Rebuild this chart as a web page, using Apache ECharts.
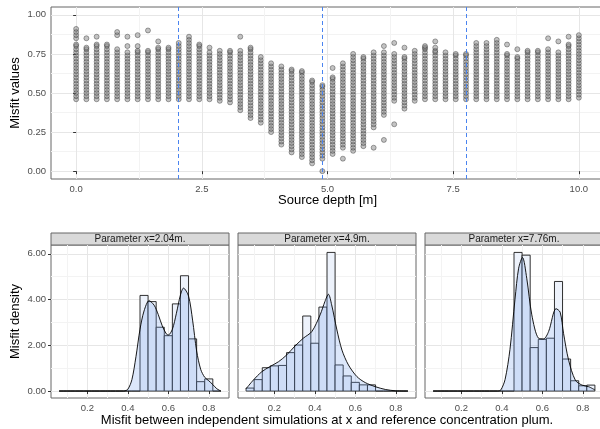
<!DOCTYPE html>
<html>
<head>
<meta charset="utf-8">
<script src="https://cdn.jsdelivr.net/npm/echarts@6/dist/echarts.min.js"></script>
<style>
html, body { margin: 0; padding: 0; background: #fff; }
#charts { width: 600px; height: 429px; }
</style>
</head>
<body>
<div id="charts"></div>
<script>
// source depths of the 50 simulation columns
var depths = [0, 0.204, 0.408, 0.612, 0.816, 1.020, 1.224, 1.429, 1.633, 1.837,
    2.041, 2.245, 2.449, 2.653, 2.857, 3.061, 3.265, 3.469, 3.673, 3.878,
    4.082, 4.286, 4.490, 4.694, 4.898, 5.102, 5.306, 5.510, 5.714, 5.918,
    6.122, 6.327, 6.531, 6.735, 6.939, 7.143, 7.347, 7.551, 7.755, 7.959,
    8.163, 8.367, 8.571, 8.776, 8.980, 9.184, 9.388, 9.592, 9.796, 10];

// misfit values per column, in hundredths
var misfits = [
    [46,48,50,52,54,56,58,60,62,64,66,68,70,72,74,76,78,80,81,85,87,89,91],
    [46,48,50,52,54,56,58,60,62,64,66,68,70,72,74,76,78,79,85],
    [46,48,50,52,54,56,58,60,62,64,66,68,70,72,74,76,78,80,81,86],
    [46,48,50,52,54,56,58,60,62,64,66,68,70,72,74,76,78,80,81],
    [46,48,50,52,54,56,58,60,62,64,66,68,70,72,74,76,78,87,89],
    [46,48,50,52,54,56,58,60,62,64,66,68,70,72,74,76,80,86],
    [46,48,50,52,54,56,58,60,62,64,66,68,70,72,74,76,77,80,87],
    [46,48,50,52,54,56,58,60,62,64,66,68,70,72,74,76,77,90],
    [46,48,50,52,54,56,58,60,62,64,66,68,70,72,74,76,78,79,83],
    [46,48,50,52,54,56,58,60,62,64,66,68,70,72,74,76,78,79],
    [46,48,50,52,54,56,58,60,62,64,66,68,70,72,74,76,78,80,82],
    [46,48,50,52,54,56,58,60,62,64,66,68,70,72,74,76,78,80,82,84,86],
    [46,48,50,52,54,56,58,60,62,64,66,68,70,72,74,76,78,80,81],
    [46,48,50,52,54,56,58,60,62,64,66,68,70,72,74,76,79],
    [45,47,49,51,53,55,57,59,61,63,65,67,69,71,73,75,77],
    [44,46,48,50,52,54,56,58,60,62,64,66,68,70,72,74,76,77],
    [39,41,43,45,47,49,51,53,55,57,59,61,63,65,67,69,71,73,75,77,86],
    [34,36,38,40,42,44,46,48,50,52,54,56,58,60,62,64,66,68,70,72,74,76,78,79],
    [31,33,35,37,39,41,43,45,47,49,51,53,55,57,59,61,63,65,67,69,71,73],
    [25,27,29,31,33,35,37,39,41,43,45,47,49,51,53,55,57,59,61,63,65,67,69],
    [17,19,21,23,25,27,29,31,33,35,37,39,41,43,45,47,49,51,53,55,57,59,61,63,65,67],
    [12,14,16,18,20,22,24,26,28,30,32,34,36,38,40,42,44,46,48,50,52,54,56,58,60,62,64,65],
    [9,11,13,15,17,19,21,23,25,27,29,31,33,35,37,39,41,43,45,47,49,51,53,55,57,59,61,63,64],
    [5,7,9,11,13,15,17,19,21,23,25,27,29,31,33,35,37,39,41,43,45,47,49,51,53,55,57,58],
    [0,8,10,12,14,16,18,20,22,24,26,28,30,32,34,36,38,40,42,44,46,48,50,52,54,55],
    [11,13,15,17,19,21,23,25,27,29,31,33,35,37,39,41,43,45,47,49,51,53,55,57,59,60,66],
    [8,15,17,19,21,23,25,27,29,31,33,35,37,39,41,43,45,47,49,51,53,55,57,59,61,63,65,67,69],
    [13,15,17,19,21,23,25,27,29,31,33,35,37,39,41,43,45,47,49,51,53,55,57,59,61,63,65,67,69,71,73,75],
    [16,18,20,22,24,26,28,30,32,34,36,38,40,42,44,46,48,50,52,54,56,58,60,62,64,66,68,70,72,73],
    [15,28,30,32,34,36,38,40,42,44,46,48,50,52,54,56,58,60,62,64,66,68,70,72,74,76],
    [20,36,38,40,42,44,46,48,50,52,54,56,58,60,62,64,66,68,70,72,74,76,80],
    [30,45,47,49,51,53,55,57,59,61,63,65,67,69,71,73,75,82],
    [40,42,44,46,48,50,52,54,56,58,60,62,64,66,68,70,72,73,79],
    [45,47,49,51,53,55,57,59,61,63,65,67,69,71,73,75,77],
    [46,48,50,52,54,56,58,60,62,64,66,68,70,72,74,76,78,79,80],
    [46,48,50,52,54,56,58,60,62,64,66,68,70,72,74,76,77,79,83],
    [46,48,50,52,54,56,58,60,62,64,66,68,70,72,74,76],
    [46,48,50,52,54,56,58,60,62,64,66,68,70,72,74,75],
    [46,48,50,52,54,56,58,60,62,64,66,68,70,72,74,75],
    [46,48,50,52,54,56,58,60,62,64,66,68,70,72,74,76,78,80,82],
    [46,48,50,52,54,56,58,60,62,64,66,68,70,72,74,76,78,80,82],
    [46,48,50,52,54,56,58,60,62,64,66,68,70,72,74,76,78,80,82,84],
    [46,48,50,52,54,56,58,60,62,64,66,68,70,72,74,75,81],
    [46,48,50,52,54,56,58,60,62,64,66,68,70,72,73,78],
    [46,48,50,52,54,56,58,60,62,64,66,68,70,72,74,76,77],
    [46,48,50,52,54,56,58,60,62,64,66,68,70,72,74,76,77],
    [46,48,50,52,54,56,58,60,62,64,66,68,70,72,74,76,78,85],
    [46,48,50,52,54,56,58,60,62,64,66,68,70,72,74,76,83],
    [46,48,50,52,54,56,58,60,62,64,66,68,70,72,74,76,78,80,81,86],
    [47,49,51,53,55,57,59,61,63,65,67,69,71,73,75,77,79,81,83,85,87]
];

var markDepths = [2.04, 4.9, 7.76];

// tick values
var depthTicks = [0, 2.5, 5, 7.5, 10];
var depthMinor = [1.25, 3.75, 6.25, 8.75];
var misfitTicks = [0, 0.25, 0.5, 0.75, 1];
var misfitMinor = [0.125, 0.375, 0.625, 0.875];
var histXTicks = [0.2, 0.4, 0.6, 0.8];
var histXMinor = [0.1, 0.3, 0.5, 0.7];
var densTicks = [0, 2, 4, 6];
var densMinor = [1, 3, 5];

// histograms (density scale), bins of width 0.04 from 0.06 to 0.86
var binWidth = 0.04;
var binCenters = [0.08, 0.12, 0.16, 0.20, 0.24, 0.28, 0.32, 0.36, 0.40, 0.44,
    0.48, 0.52, 0.56, 0.60, 0.64, 0.68, 0.72, 0.76, 0.80, 0.84];
var hist204 = [0, 0, 0, 0, 0, 0, 0, 0, 0, 0,
    4.18, 3.91, 2.79, 2.42, 3.81, 5.04, 2.28, 0.41, 0.53, 0];
var hist490 = [0.13, 0.50, 1.02, 1.10, 1.12, 1.68, 2.01, 3.28, 2.09, 3.67,
    6.06, 1.14, 0.66, 0.38, 0.27, 0.27, 0, 0, 0, 0];
var hist776 = [0, 0, 0, 0, 0, 0, 0, 0, 0, 0,
    6.06, 5.94, 1.90, 2.26, 2.31, 4.79, 1.40, 0.45, 0.23, 0.26];

// kernel density curves [misfit, density]
var dens204 = [[0.06,0],[0.38,0],[0.40,0.08],[0.42,0.5],[0.44,1.5],[0.46,2.7],[0.48,3.5],
    [0.505,3.95],[0.53,3.75],[0.55,3.35],[0.57,2.85],[0.59,2.5],[0.60,2.45],[0.62,2.7],
    [0.64,3.4],[0.66,4.2],[0.675,4.5],[0.70,4.15],[0.72,3.1],[0.74,1.75],[0.76,0.95],
    [0.78,0.6],[0.80,0.45],[0.82,0.28],[0.84,0.1],[0.86,0]];
var dens490 = [[0.06,0.1],[0.096,0.48],[0.137,0.84],[0.178,1.07],[0.22,1.28],[0.261,1.58],
    [0.302,1.97],[0.343,2.31],[0.385,2.6],[0.426,3.33],[0.45,3.92],[0.467,4.23],[0.483,3.77],
    [0.509,2.67],[0.534,1.79],[0.566,1.14],[0.608,0.63],[0.649,0.37],[0.699,0.19],
    [0.748,0.07],[0.80,0.01],[0.86,0]];
var dens776 = [[0.06,0],[0.38,0],[0.395,0.05],[0.416,0.51],[0.44,1.82],[0.465,4.02],[0.483,5.37],
    [0.502,5.84],[0.523,4.93],[0.548,3.33],[0.581,2.31],[0.606,2.28],[0.631,2.6],[0.668,3.6],
    [0.688,3.45],[0.705,2.52],[0.73,1.35],[0.763,0.48],[0.796,0.26],[0.829,0.19],[0.86,0.05]];

var font = 'Liberation Sans, Arial, sans-serif';
var panelLefts = [51, 238, 425];
var panelW = 178;

function majorAxis(grid, min, max, ticks, digits, showLabels) {
    return {
        type: 'value', gridIndex: grid, min: min, max: max,
        axisLine: { show: false },
        axisTick: { show: showLabels, length: 3, customValues: ticks, lineStyle: { color: '#333' } },
        axisLabel: {
            show: showLabels, customValues: ticks, margin: 5,
            color: '#4d4d4d', fontSize: 9.5, fontFamily: font,
            formatter: function (v) { return v.toFixed(digits); }
        },
        splitLine: { show: true, lineStyle: { color: '#e6e6e6', width: 1 } }
    };
}
function minorAxis(grid, min, max, ticks) {
    return {
        type: 'value', gridIndex: grid, min: min, max: max,
        axisLine: { show: false },
        axisTick: { show: false, customValues: ticks },
        axisLabel: { show: false, customValues: ticks },
        splitLine: { show: true, lineStyle: { color: '#f3f3f3', width: 1 } }
    };
}
function titled(axis, name, gap, rotate) {
    axis.name = name;
    axis.nameLocation = 'middle';
    axis.nameGap = gap;
    axis.nameMoveOverlap = false;
    if (rotate) axis.nameRotate = 90;
    axis.nameTextStyle = { color: '#000', fontSize: 13, fontFamily: font };
    return axis;
}

var xAxes = [titled(majorAxis(0, -0.5, 10.5, depthTicks, 1, true), 'Source depth [m]', 15),
    minorAxis(0, -0.5, 10.5, depthMinor)];
var yAxes = [titled(majorAxis(0, -0.05, 1.05, misfitTicks, 2, true), 'Misfit values', 29, true),
    minorAxis(0, -0.05, 1.05, misfitMinor)];

var grids = [{ left: 51, top: 7, width: 553, height: 172 }];
for (var p = 0; p < 3; p++) {
    grids.push({ left: panelLefts[p], top: 245, width: panelW, height: 153 });
    xAxes.push(majorAxis(p + 1, 0.02, 0.9, histXTicks, 1, true), minorAxis(p + 1, 0.02, 0.9, histXMinor));
    yAxes.push(majorAxis(p + 1, -0.304, 6.384, densTicks, 2, p === 0), minorAxis(p + 1, -0.304, 6.384, densMinor));
}
grids.forEach(function (g) {
    g.show = true; g.backgroundColor = '#fff'; g.borderColor = '#666'; g.borderWidth = 1;
    g.outerBoundsMode = 'none'; g.containLabel = false;
});
titled(xAxes[4], 'Misfit between independent simulations at x and reference concentration plum.', 16);
titled(yAxes[2], 'Misfit density', 29, true);

var points = [];
depths.forEach(function (d, i) {
    misfits[i].forEach(function (v) { points.push([d, v / 100]); });
});

var dashStyle = { color: '#4a84f0', type: [4, 3], width: 1, opacity: 1 };
var series = [{
    type: 'scatter', xAxisIndex: 0, yAxisIndex: 0,
    data: points, symbolSize: 5,
    itemStyle: { color: 'rgba(130,130,130,0.6)', borderColor: 'rgba(30,30,30,0.8)', borderWidth: 0.6 },
    markLine: {
        silent: true, symbol: ['none', 'none'], label: { show: false },
        lineStyle: dashStyle, z: 5,
        data: markDepths.map(function (d) { return { xAxis: d, lineStyle: dashStyle }; })
    }
}];

var hists = [hist204, hist490, hist776];
var dens = [dens204, dens490, dens776];
hists.forEach(function (h, p) {
    series.push({
        type: 'custom', xAxisIndex: 2 * (p + 1), yAxisIndex: 2 * (p + 1),
        data: binCenters.map(function (c, i) { return [c, h[i]]; }),
        renderItem: function (params, api) {
            var c = api.value(0), v = api.value(1);
            var a = api.coord([c - binWidth / 2, v]);
            var b = api.coord([c + binWidth / 2, 0]);
            return {
                type: 'rect',
                shape: { x: a[0], y: a[1], width: b[0] - a[0], height: b[1] - a[1] },
                style: { fill: '#edf2fb', stroke: '#1a1a1a', lineWidth: 0.9 }
            };
        }
    });
    series.push({
        type: 'line', xAxisIndex: 2 * (p + 1), yAxisIndex: 2 * (p + 1),
        data: dens[p], smooth: 0.3, symbol: 'none',
        lineStyle: { color: '#000', width: 0.9 },
        areaStyle: { color: 'rgba(110,155,235,0.34)' }
    });
});

var graphics = [];
markDepths.forEach(function (d, p) {
    graphics.push({
        type: 'rect', shape: { x: panelLefts[p], y: 233, width: panelW, height: 12 },
        style: { fill: '#d9d9d9', stroke: '#666', lineWidth: 1 }
    });
    graphics.push({
        type: 'text', x: panelLefts[p] + panelW / 2, y: 239.5,
        style: { text: 'Parameter x=' + d + 'm.', align: 'center', verticalAlign: 'middle',
            fontSize: 10, fontFamily: font, fill: '#1a1a1a' }
    });
});

var myChart = echarts.init(document.getElementById('charts'));
myChart.setOption({
    animation: false,
    textStyle: { fontFamily: font },
    grid: grids,
    xAxis: xAxes,
    yAxis: yAxes,
    series: series,
    graphic: graphics
});
</script>
</body>
</html>
